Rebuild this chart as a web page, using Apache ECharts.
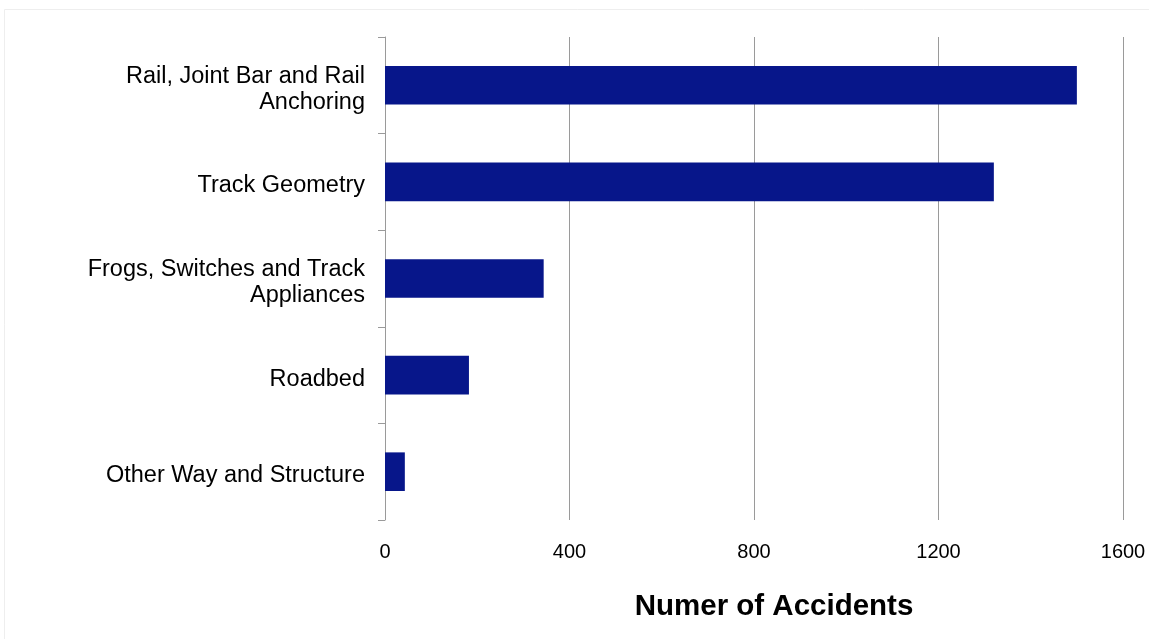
<!DOCTYPE html>
<html>
<head>
<meta charset="utf-8">
<script src="https://cdn.jsdelivr.net/npm/echarts@6/dist/echarts.min.js"></script>
<style>html,body{margin:0;padding:0;background:#fff}#c{width:1149px;height:639px}</style>
</head>
<body>
<div id="c"></div>
<script>
const categories = ["Rail, Joint Bar and Rail\nAnchoring", "Track Geometry", "Frogs, Switches and Track\nAppliances", "Roadbed", "Other Way and Structure"];
const accidents = [1500, 1320, 344, 182, 43];
const xTicks = [0, 400, 800, 1200, 1600];

const chart = echarts.init(document.getElementById('c'));
chart.setOption({
  animation: false,
  backgroundColor: '#fff',
  graphic: [{
    type: 'rect', shape: {x: 4.5, y: 9.5, width: 1150, height: 640},
    style: {fill: 'none', stroke: '#eeeeee', lineWidth: 1}, silent: true
  }],
  grid: {left: 385, right: 26, top: 37, bottom: 119, containLabel: false},
  xAxis: {
    type: 'value', min: xTicks[0], max: xTicks[xTicks.length - 1], interval: 400,
    name: 'Numer of Accidents', nameLocation: 'middle', nameGap: 72,
    nameTextStyle: {fontFamily: 'Liberation Sans', fontWeight: 'bold', fontSize: 29.5, color: '#000', padding: [0, 0, 0, 40]},
    axisLine: {show: false}, axisTick: {show: false},
    axisLabel: {fontFamily: 'Liberation Sans', fontSize: 20, color: '#000', margin: 22, formatter: v => String(v)},
    splitLine: {show: true, lineStyle: {color: '#9a9a9a', width: 1}}
  },
  yAxis: {
    type: 'category', data: categories, inverse: true,
    axisLine: {show: true, lineStyle: {color: '#9a9a9a', width: 1}},
    axisTick: {show: true, length: 7, lineStyle: {color: '#9a9a9a'}},
    axisLabel: {
      fontFamily: 'Liberation Sans', fontSize: 23.5, color: '#000', margin: 20, lineHeight: 26, align: 'right',
      formatter: v => v.split('\n').map(l => '{a|' + l + '}').join('\n'),
      rich: {
        a: {fontFamily: 'Liberation Sans', fontSize: 23.5, color: '#000', lineHeight: 26, padding: [8, 0, 0, 0]}
      }
    }
  },
  series: [{
    type: 'bar', data: accidents, barCategoryGap: '60%',
    itemStyle: {color: '#07168a'}
  }]
});
</script>
</body>
</html>
